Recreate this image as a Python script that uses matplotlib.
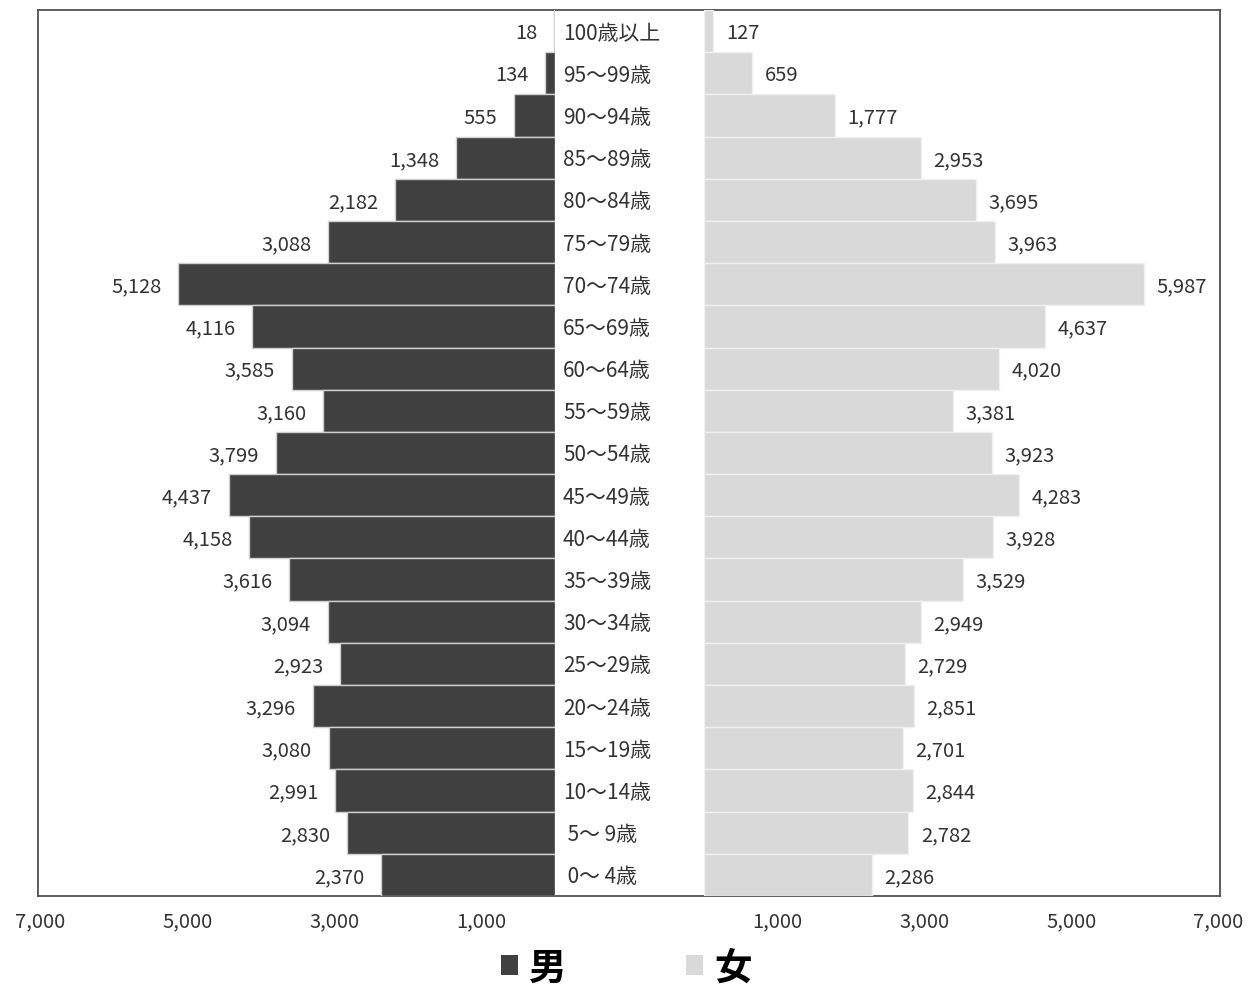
import matplotlib
matplotlib.use("Agg")
import matplotlib.pyplot as plt
from matplotlib.patches import Patch

plt.rcParams['font.family'] = ['Noto Sans CJK JP', 'DejaVu Sans']

ages = ["100歳以上", "95～99歳", "90～94歳", "85～89歳", "80～84歳", "75～79歳",
        "70～74歳", "65～69歳", "60～64歳", "55～59歳", "50～54歳", "45～49歳",
        "40～44歳", "35～39歳", "30～34歳", "25～29歳", "20～24歳", "15～19歳",
        "10～14歳", " 5～ 9歳", " 0～ 4歳"]
male = [18, 134, 555, 1348, 2182, 3088, 5128, 4116, 3585, 3160, 3799, 4437,
        4158, 3616, 3094, 2923, 3296, 3080, 2991, 2830, 2370]
female = [127, 659, 1777, 2953, 3695, 3963, 5987, 4637, 4020, 3381, 3923, 4283,
          3928, 3529, 2949, 2729, 2851, 2701, 2844, 2782, 2286]
ticks = [1000, 3000, 5000, 7000]
tick_labels = ["1,000", "3,000", "5,000", "7,000"]
legend_labels = ["男", "女"]

W, H = 1254, 987
fig = plt.figure(figsize=(W / 100, H / 100), dpi=100)

def rect(x0, y0, x1, y1):
    return [x0 / W, 1 - y1 / H, (x1 - x0) / W, (y1 - y0) / H]

top, bot = 11, 897
frame = fig.add_axes(rect(38, top, 1220, bot))
frame.set_xticks([]); frame.set_yticks([])
for s in frame.spines.values():
    s.set_color('#505050'); s.set_linewidth(1.3)
frame.patch.set_alpha(0)

axL = fig.add_axes(rect(40.5, top, 555, bot))
axR = fig.add_axes(rect(704, top, 1218.5, bot))

n = len(ages)
ypos = list(range(n - 1, -1, -1))
dark, light = '#404040', '#d9d9d9'
txtc = '#333333'
fs = 14.5

axL.barh(ypos, male, height=1.0, color=dark, edgecolor='#d0d0d0', linewidth=1.0)
axR.barh(ypos, female, height=1.0, color=light, edgecolor='#f0f0f0', linewidth=1.0)

for ax in (axL, axR):
    ax.set_ylim(-0.5, n - 0.5)
    ax.set_yticks([])
    ax.patch.set_alpha(0)
    for s in ax.spines.values():
        s.set_visible(False)
    ax.set_xticks(ticks)
    ax.set_xticklabels(tick_labels, fontsize=fs, color=txtc)
    ax.tick_params(axis='x', length=0, pad=10.5)
axL.set_xlim(7000, 0)
axR.set_xlim(0, 7000)

for y, v in zip(ypos, male):
    axL.annotate(f"{v:,}", (v, y), xytext=(-12, -1.2), textcoords='offset points',
                 ha='right', va='center', fontsize=fs, color=txtc)
for y, v in zip(ypos, female):
    axR.annotate(f"{v:,}", (v, y), xytext=(9, -1.2), textcoords='offset points',
                 ha='left', va='center', fontsize=fs, color=txtc)

# age labels in the central gap
for y, lab in zip(ypos, ages):
    yf = 1 - (top + 1.5 + (n - 1 - y + 0.5) * (bot - top) / n) / H
    fig.text(563 / W, yf, lab, ha='left', va='center', fontsize=15, color=txtc)

handles = [Patch(facecolor=dark, edgecolor='none'), Patch(facecolor=light, edgecolor='none')]
fig.legend(handles, legend_labels, loc='center', bbox_to_anchor=(0.4995, 1 - 968 / H),
           ncol=2, frameon=False, prop={'size': 27, 'weight': 'bold'},
           handlelength=0.45, handleheight=0.45, handletextpad=0.3, columnspacing=3.2,
           borderpad=0.0)

fig.savefig("out.png", dpi=100, facecolor='white')
